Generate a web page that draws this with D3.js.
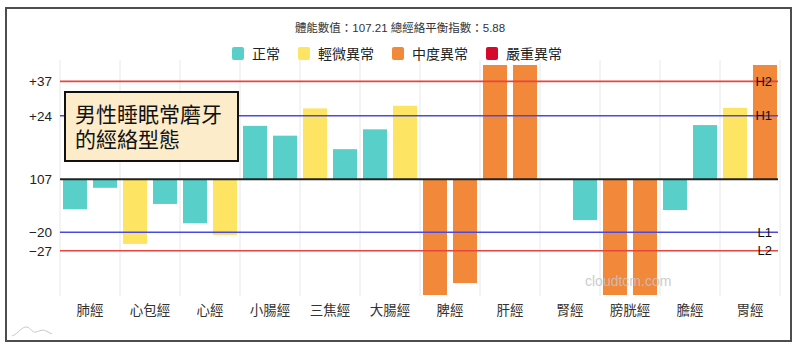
<!DOCTYPE html>
<html lang="zh-Hant">
<head>
<meta charset="utf-8">
<title>男性睡眠常磨牙的經絡型態</title>
<script src="https://d3js.org/d3.v7.min.js"></script>
<style>
  body { margin: 0; background: #fff; }
  svg text { font-family: "Liberation Sans", Arial, "Noto Sans CJK TC", sans-serif; }
</style>
</head>
<body>
<div id="chart"></div>
<script>
// meridians, left / right values (relative to 107) and their level index
const categories = ["肺經", "心包經", "心經", "小腸經", "三焦經", "大腸經", "脾經", "肝經", "腎經", "膀胱經", "膽經", "胃經"];
const leftValues  = [-11.3, -24.4, -16.6, 20.2, 26.8, 18.9, -46, 46, 0, -46, -11.6, 27];
const rightValues = [-3.2, -9.3, -21, 16.5, 11.4, 27.8, -39.2, 46, -15.4, -46, 20.5, 46];
const leftLevels  = [0, 1, 0, 0, 1, 0, 2, 2, 0, 2, 0, 1];
const rightLevels = [0, 0, 1, 0, 0, 1, 2, 2, 0, 2, 0, 2];

const levelNames = ["正常", "輕微異常", "中度異常", "嚴重異常"];
const levelColors = ["#58d0c9", "#fde462", "#f2883a", "#d6082c"];

const refValues = [37, 24, -20, -27];
const refNames = ["H2", "H1", "L1", "L2"];
const refColors = ["#e8453c", "#4a4adf", "#4a4adf", "#e8453c"];

const tickValues = [37, 24, 0, -20, -27];
const tickLabels = ["+37", "+24", "107", "\u221220", "\u221227"];

const titleText = "體能數值：107.21 總經絡平衡指數：5.88";
const noteLines = ["男性睡眠常磨牙", "的經絡型態"];

const width = 800, height = 351;
const plotLeft = 60, plotRight = 780, plotTop = 65, plotBottom = 295;

const svg = d3.select("#chart").append("svg")
  .attr("width", width)
  .attr("height", height);

// outer frame
svg.append("rect")
  .attr("x", 6).attr("y", 8)
  .attr("width", 785).attr("height", 333)
  .attr("fill", "none")
  .attr("stroke", "#4d4d4d")
  .attr("stroke-width", 2);

let x = d3.scaleBand().domain(categories).range([plotLeft, plotRight]);
let side = d3.scaleBand().domain(["L", "R"]).range([0, x.bandwidth()])
  .paddingInner(0.2).paddingOuter(0.1);
let y = d3.scaleLinear().domain([-43.7, 43.2]).range([plotBottom, plotTop]).clamp(true);

// vertical grid
svg.append("g")
  .selectAll("line")
  .data(d3.range(categories.length + 1))
  .join("line")
  .attr("x1", i => plotLeft + i * x.step())
  .attr("x2", i => plotLeft + i * x.step())
  .attr("y1", 60).attr("y2", plotBottom + 1)
  .attr("stroke", "#e8e8e8")
  .attr("stroke-width", 1);

// bars
let bars = [];
categories.forEach((c, i) => {
  bars.push({ cat: c, side: "L", v: leftValues[i], lvl: leftLevels[i] });
  bars.push({ cat: c, side: "R", v: rightValues[i], lvl: rightLevels[i] });
});
svg.append("g")
  .selectAll("rect")
  .data(bars)
  .join("rect")
  .attr("x", d => x(d.cat) + side(d.side))
  .attr("width", side.bandwidth())
  .attr("y", d => Math.min(y(d.v), y(0)))
  .attr("height", d => Math.abs(y(d.v) - y(0)))
  .attr("fill", d => levelColors[d.lvl]);

// reference lines
let refs = svg.append("g");
refValues.forEach((v, i) => {
  refs.append("line")
    .attr("x1", plotLeft).attr("x2", plotRight - 2)
    .attr("y1", y(v)).attr("y2", y(v))
    .attr("stroke", refColors[i])
    .attr("stroke-width", 1.6);
});
svg.append("line")
  .attr("x1", plotLeft).attr("x2", plotRight - 2)
  .attr("y1", y(0)).attr("y2", y(0))
  .attr("stroke", "#222")
  .attr("stroke-width", 2);
refValues.forEach((v, i) => {
  svg.append("text")
    .attr("x", plotRight - 8)
    .attr("y", y(v))
    .attr("dy", "0.36em")
    .attr("text-anchor", "end")
    .attr("font-size", 13)
    .attr("fill", "#111")
    .text(refNames[i]);
});

// y axis labels
let yAxis = svg.append("g")
  .attr("transform", `translate(${plotLeft},0)`)
  .call(d3.axisLeft(y).tickValues(tickValues)
    .tickFormat((d, i) => tickLabels[i]).tickSize(0).tickPadding(8));
yAxis.select(".domain").remove();
yAxis.selectAll("text").attr("font-size", 13.5).attr("fill", "#222")
  .style("font-family", "'Liberation Sans', Arial, sans-serif");

// x axis labels
let xAxis = svg.append("g")
  .attr("transform", `translate(0,${plotBottom})`)
  .call(d3.axisBottom(x).tickSize(0).tickPadding(10));
xAxis.select(".domain").remove();
xAxis.selectAll("text").attr("font-size", 13.5).attr("fill", "#333")
  .style("font-family", "'Noto Sans CJK TC', sans-serif");

// title
svg.append("text")
  .attr("x", 400).attr("y", 32)
  .attr("text-anchor", "middle")
  .attr("font-size", 11.5)
  .attr("fill", "#333")
  .text(titleText);

// legend
let legend = svg.append("g");
let lx = 0;
levelNames.forEach((n, i) => {
  let g = legend.append("g").attr("transform", `translate(${lx},0)`);
  g.append("rect")
    .attr("x", 0).attr("y", 47)
    .attr("width", 12).attr("height", 13)
    .attr("rx", 2)
    .attr("fill", levelColors[i]);
  let t = g.append("text")
    .attr("x", 20).attr("y", 58.5)
    .attr("font-size", 14)
    .attr("fill", "#222")
    .style("font-family", "'Noto Sans CJK TC', sans-serif")
    .text(n);
  lx += 20 + t.node().getComputedTextLength() + 18;
});
lx -= 18;
legend.attr("transform", `translate(${400 - lx / 2 - 3},0)`);

// note box
svg.append("rect")
  .attr("x", 65).attr("y", 92)
  .attr("width", 173).attr("height", 69)
  .attr("fill", "#fdecc9")
  .attr("stroke", "#111")
  .attr("stroke-width", 2);
let note = svg.append("text")
  .attr("font-size", 21)
  .attr("fill", "#111")
  .style("font-family", "'Noto Sans CJK TC', sans-serif");
noteLines.forEach((s, i) => {
  note.append("tspan")
    .attr("x", 75).attr("y", 122 + i * 25)
    .text(s);
});

// watermark
svg.append("text")
  .attr("x", 585).attr("y", 286)
  .attr("font-size", 14)
  .attr("fill", "#c4c4c4")
  .attr("opacity", 0.85)
  .text("cloudtcm.com");

// small logo in the corner
svg.append("path")
  .attr("d", "M12,336 C18,334 22,326 27,327 C31,328 32,333 36,332 C40,331 42,329 46,331 L52,334")
  .attr("fill", "none")
  .attr("stroke", "#c8c8c8")
  .attr("stroke-width", 1);
</script>
</body>
</html>
